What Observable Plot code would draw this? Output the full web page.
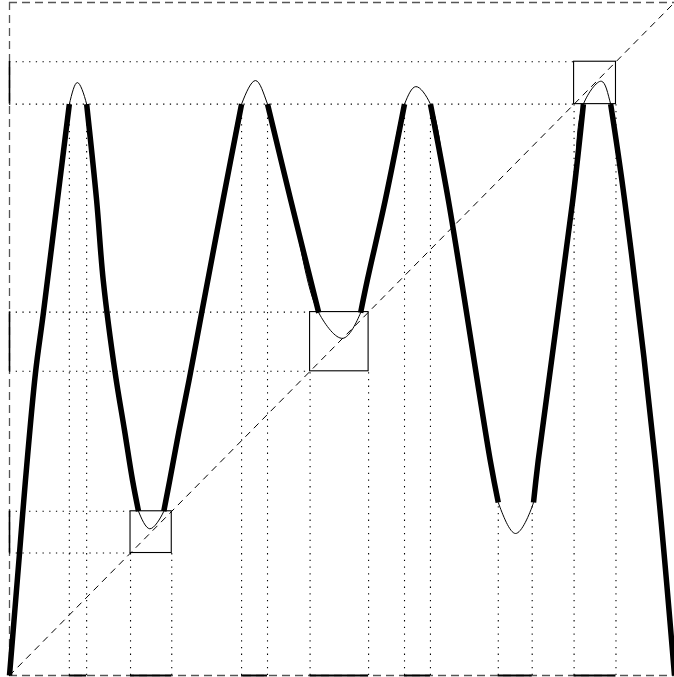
<!DOCTYPE html>
<html>
<head>
<meta charset="utf-8">
<script src="https://cdn.jsdelivr.net/npm/d3@7"></script>
<script src="https://cdn.jsdelivr.net/npm/@observablehq/plot@0.6"></script>
<style>
  html, body { margin: 0; padding: 0; background: #fff; overflow: hidden; }
  #chart svg { display: block; }
</style>
</head>
<body>
<div id="chart"></div>
<script>
// Curve sample points (x, y in unit square)
const curveX = [0.000, 0.015, 0.024, 0.039, 0.051, 0.072, 0.090, 0.102, 0.116, 0.131, 0.141, 0.159, 0.173, 0.185, 0.194, 0.211, 0.232, 0.241, 0.255, 0.272, 0.289, 0.321, 0.349, 0.370, 0.388, 0.423, 0.465, 0.501, 0.528, 0.538, 0.565, 0.594, 0.611, 0.633, 0.660, 0.723, 0.735, 0.761, 0.788, 0.795, 0.847, 0.863, 0.890, 0.904, 0.925, 0.971, 1.000];
const curveY = [0.000, 0.181, 0.290, 0.449, 0.539, 0.706, 0.849, 0.881, 0.849, 0.706, 0.587, 0.449, 0.364, 0.290, 0.244, 0.218, 0.244, 0.290, 0.364, 0.449, 0.539, 0.706, 0.849, 0.884, 0.849, 0.706, 0.539, 0.501, 0.539, 0.587, 0.706, 0.849, 0.875, 0.849, 0.706, 0.319, 0.257, 0.211, 0.257, 0.319, 0.706, 0.849, 0.883, 0.849, 0.706, 0.319, 0.000];
// thick branch id of each point (0 = only on the thin curve)
const curveSeg = [1, 1, 1, 1, 1, 1, 1, 0, 2, 2, 2, 2, 2, 2, 2, 0, 3, 3, 3, 3, 3, 3, 3, 0, 4, 4, 4, 0, 5, 5, 5, 5, 0, 6, 6, 6, 6, 0, 7, 7, 7, 7, 0, 8, 8, 8, 8];

// Boxes on the diagonal
const boxLo = [0.182, 0.452, 0.849];
const boxHi = [0.244, 0.540, 0.912];

// Preimage intervals (vertical dotted lines up to the curve)
const preLo = [0.090, 0.349, 0.594, 0.735];
const preHi = [0.116, 0.388, 0.633, 0.786];
const preTop = [0.849, 0.849, 0.849, 0.257];

const diagonal = [0, 1];
const frameY = [0, 1];
const frameX = [0];

const curve = curveX.map((x, i) => ({x, y: curveY[i], seg: curveSeg[i]}));
const thick = curve.filter(d => d.seg > 0);
const boxes = boxLo.map((lo, i) => ({lo, hi: boxHi[i]}));
const pres = preLo.map((lo, i) => ({lo, hi: preHi[i], top: preTop[i]}));
const allIntervals = [...pres.map(d => ({lo: d.lo, hi: d.hi})), ...boxes];
const boxEdges = boxes.flatMap(b => [{v: b.lo, lo: b.lo}, {v: b.hi, lo: b.lo}]);
const preEdges = pres.flatMap(p => [{v: p.lo, top: p.top}, {v: p.hi, top: p.top}]);

const dot = {stroke: "#000", strokeWidth: 1.1, strokeDasharray: "1.3,5.4"};
const dash = {stroke: "#555", strokeWidth: 1.3, strokeDasharray: "8,5"};

const chart = Plot.plot({
  width: 674,
  height: 677,
  marginLeft: 9,
  marginRight: 0,
  marginTop: 2,
  marginBottom: 2,
  x: {domain: [0, 1], axis: null},
  y: {domain: [0, 1], axis: null},
  marks: [
    Plot.ruleY(frameY, {y: d => d, ...dash}),
    Plot.ruleX(frameX, {x: d => d, ...dash}),
    Plot.line(diagonal, {x: d => d, y: d => d, stroke: "#000", strokeWidth: 1, strokeDasharray: "6,6"}),
    // horizontal dotted guides from left edge to each box
    Plot.ruleY(boxEdges, {y: "v", x1: 0, x2: "lo", ...dot}),
    // vertical dotted guides from bottom to each box
    Plot.ruleX(boxEdges, {x: "v", y1: 0, y2: "lo", ...dot}),
    // vertical dotted guides for preimage intervals
    Plot.ruleX(preEdges, {x: "v", y1: 0, y2: "top", ...dot}),
    // boxes
    Plot.rect(boxes, {x1: "lo", x2: "hi", y1: "lo", y2: "hi", fill: "none", stroke: "#000", strokeWidth: 1.1}),
    // solid segments on left edge
    Plot.ruleX(boxes, {x: 0, y1: "lo", y2: "hi", stroke: "#000", strokeWidth: 1.6}),
    // solid segments on bottom edge
    Plot.ruleY(allIntervals, {y: 0, x1: "lo", x2: "hi", stroke: "#000", strokeWidth: 2}),
    // thin full curve
    Plot.line(curve, {x: "x", y: "y", curve: "catmull-rom", stroke: "#000", strokeWidth: 1}),
    // thick branches
    Plot.line(thick, {x: "x", y: "y", z: "seg", curve: "catmull-rom", stroke: "#000", strokeWidth: 5.5, strokeLinecap: "butt"})
  ]
});
document.getElementById("chart").append(chart);
</script>
</body>
</html>
